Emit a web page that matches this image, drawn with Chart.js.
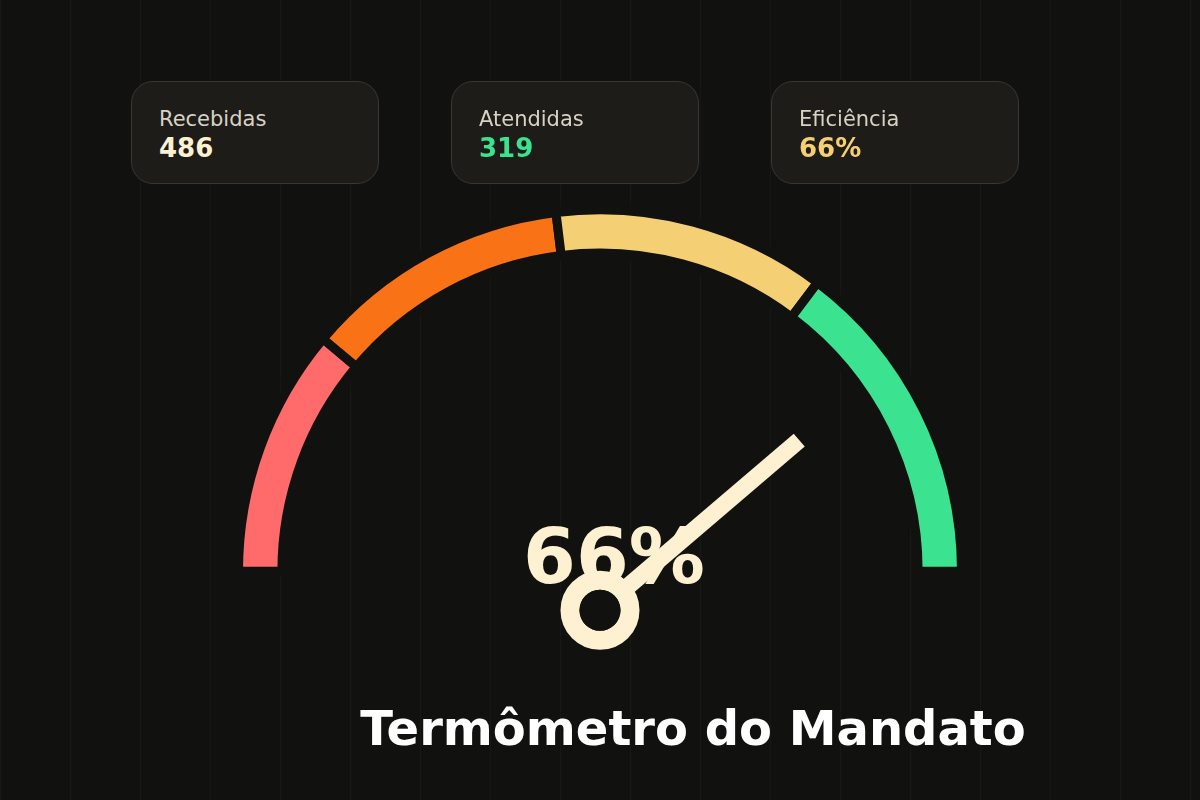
<!DOCTYPE html>
<html>
<head>
<meta charset="utf-8">
<script src="https://cdn.jsdelivr.net/npm/chart.js@4"></script>
<style>
  body { margin: 0; width: 1200px; height: 800px; overflow: hidden; font-family: "DejaVu Sans", sans-serif;
    background-color: #111110;
    background-image: linear-gradient(to right, rgba(255,255,255,0.025) 1px, transparent 1px);
    background-size: 70px 100%; }
  #wrap { position: absolute; left: 0; top: 0; width: 1200px; height: 800px; }
  .card { position: absolute; top: 81px; width: 248px; height: 103px; box-sizing: border-box;
    background: #1d1c19; border: 1px solid #3a3731; border-radius: 22px; padding: 24px 27px; }
  .card .lbl { color: #d8d2c4; font-size: 21px; line-height: 26px; }
  .card .val { font-size: 26px; font-weight: bold; line-height: 32px; }
</style>
</head>
<body>
<div id="wrap"><canvas id="gauge"></canvas></div>
<div id="cards"></div>
<script>
// values
const cardLabels = ['Recebidas', 'Atendidas', 'Eficiência'];
const cardValues = ['486', '319', '66%'];
const cardColors = ['#fdf1d2', '#3be28f', '#f5cf74'];
const zoneSizes = [40, 43, 44, 53];        // degrees of the half circle
const zoneColors = ['#ff6b6b', '#f97316', '#f5cf74', '#3be28f'];
const needleValue = 77.5;                  // percent of the arc where the needle points
const centerText = '66%';
const title = 'Termômetro do Mandato';

const cards = document.getElementById('cards');
cardLabels.forEach((l, i) => {
    const d = document.createElement('div');
    d.className = 'card';
    d.style.left = (131 + i * 320) + 'px';
    d.innerHTML = '<div class="lbl">' + l + '</div><div class="val" style="color:' + cardColors[i] + '">' + cardValues[i] + '</div>';
    cards.appendChild(d);
});

const overlay = {
    id: 'overlay',
    afterDraw(chart) {
        const c = chart.ctx;
        const arc = chart.getDatasetMeta(0).data[0];
        const cx = arc.x, cy = arc.y;
        c.save();
        c.fillStyle = '#fdf1d2';
        c.font = 'bold 76px "DejaVu Sans"';
        c.textAlign = 'center';
        c.textBaseline = 'alphabetic';
        c.fillText(centerText, cx + 14, cy + 12);
        // needle
        const py = cy + 39;
        const ang = Math.PI - Math.PI * needleValue / 100;
        c.strokeStyle = '#fdf1d2';
        c.lineWidth = 17;
        c.beginPath();
        c.moveTo(cx + Math.cos(ang) * 30, py - Math.sin(ang) * 30);
        c.lineTo(cx + Math.cos(ang) * 262, py - Math.sin(ang) * 262);
        c.stroke();
        c.lineWidth = 19;
        c.beginPath();
        c.arc(cx, py, 30, 0, Math.PI * 2);
        c.stroke();
        c.fillStyle = '#111110';
        c.beginPath();
        c.arc(cx, py, 20.5, 0, Math.PI * 2);
        c.fill();
        c.fillStyle = '#ffffff';
        c.font = 'bold 48px "DejaVu Sans"';
        c.fillText(title, 693, 745);
        c.restore();
    }
};

new Chart(document.getElementById('gauge'), {
    type: 'doughnut',
    data: {
        labels: ['Crítico', 'Atenção', 'Bom', 'Ótimo'],
        datasets: [{
            data: zoneSizes,
            backgroundColor: zoneColors,
            borderColor: '#111110',
            borderWidth: 9
        }]
    },
    options: {
        responsive: true,
        maintainAspectRatio: false,
        animation: false,
        rotation: -90,
        circumference: 180,
        cutout: '88%',
        layout: { padding: { left: 234, right: 234, top: 205, bottom: 224 } },
        plugins: { legend: { display: false }, tooltip: { enabled: false } }
    },
    plugins: [overlay]
});
</script>
</body>
</html>
